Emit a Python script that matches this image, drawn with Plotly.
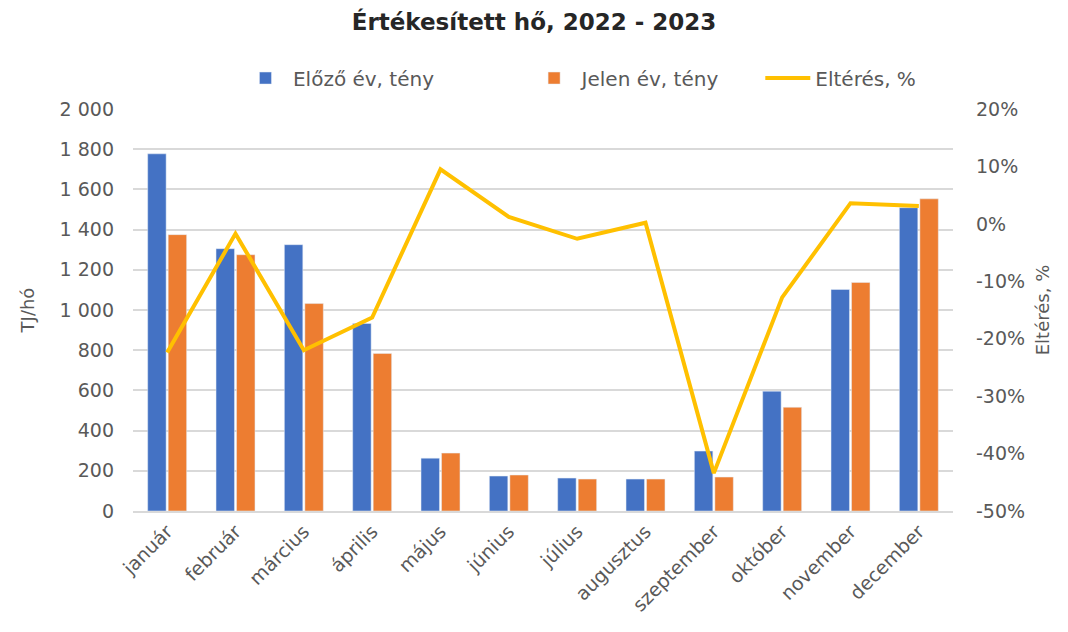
import plotly.graph_objects as go

months = ["január", "február", "március", "április", "május", "június",
          "július", "augusztus", "szeptember", "október", "november", "december"]
prev_year = [1777, 1305, 1325, 933, 263, 174, 164, 159, 298, 596, 1102, 1509]
curr_year = [1375, 1275, 1032, 784, 288, 179, 159, 159, 169, 516, 1137, 1553]
diff_pct = [-0.224, -0.017, -0.220, -0.163, 0.095, 0.012, -0.026, 0.002,
            -0.434, -0.128, 0.036, 0.031]
pct_ticks = [-0.5, -0.4, -0.3, -0.2, -0.1, 0.0, 0.1, 0.2]
pct_labels = ["-50%", "-40%", "-30%", "-20%", "-10%", "0%", "10%", "20%"]

FONT = "DejaVu Sans, Lato, sans-serif"
GREY = "#595959"

fig = go.Figure()
fig.add_trace(go.Bar(name="Előző év, tény", x=months, y=prev_year,
                     marker_color="#4472C4", yaxis="y", legend="legend",
                     showlegend=True))
fig.add_trace(go.Bar(name="Jelen év, tény", x=months, y=curr_year,
                     marker_color="#ED7D31", yaxis="y", legend="legend2",
                     showlegend=True))
fig.add_trace(go.Scatter(name="Eltérés, %", x=months, y=diff_pct, mode="lines",
                         line=dict(color="#FFC000", width=4), yaxis="y2",
                         legend="legend3", showlegend=True))

leg_common = dict(orientation="h", y=1.077, yanchor="middle", xanchor="left",
                  font=dict(family=FONT, size=20, color=GREY), itemwidth=45,
                  bgcolor="rgba(0,0,0,0)")

fig.update_layout(
    width=1068, height=632,
    showlegend=True,
    paper_bgcolor="white", plot_bgcolor="white",
    separators=", ",
    font=dict(family=FONT, size=19, color=GREY),
    title=dict(text="<b>Értékesített hő, 2022 - 2023</b>", x=0.5, xanchor="center",
               y=0.965, yanchor="middle",
               font=dict(family=FONT, size=23, color="#262626")),
    margin=dict(l=133, r=115, t=109, b=121),
    barmode="group", bargap=0.40, bargroupgap=0.10,
    legend=dict(x=0.128, **leg_common),
    legend2=dict(x=0.480, **leg_common),
    legend3=dict(x=0.765, **leg_common),
    xaxis=dict(tickangle=-45, showgrid=False, showline=True, linecolor="#d9d9d9",
               linewidth=2, ticks="", tickfont=dict(size=19, color=GREY)),
    yaxis=dict(range=[0, 2000], dtick=200, tickformat=",", showgrid=True,
               gridcolor="#d9d9d9", gridwidth=2, zeroline=False,
               ticklabelstandoff=18,
               title=dict(text="TJ/hó", font=dict(size=18, color=GREY), standoff=20),
               tickfont=dict(size=19, color=GREY), ticks=""),
    yaxis2=dict(range=[-0.5, 0.2], tickmode="array", tickvals=pct_ticks,
                ticktext=pct_labels, overlaying="y",
                side="right", showgrid=False, zeroline=False,
                ticklabelstandoff=22,
                title=dict(text="Eltérés, %", font=dict(size=18, color=GREY), standoff=12),
                tickfont=dict(size=19, color=GREY)),
)

fig.write_html("out.html", post_script="document.body.style.margin='0';",
               config={"displayModeBar": False})
